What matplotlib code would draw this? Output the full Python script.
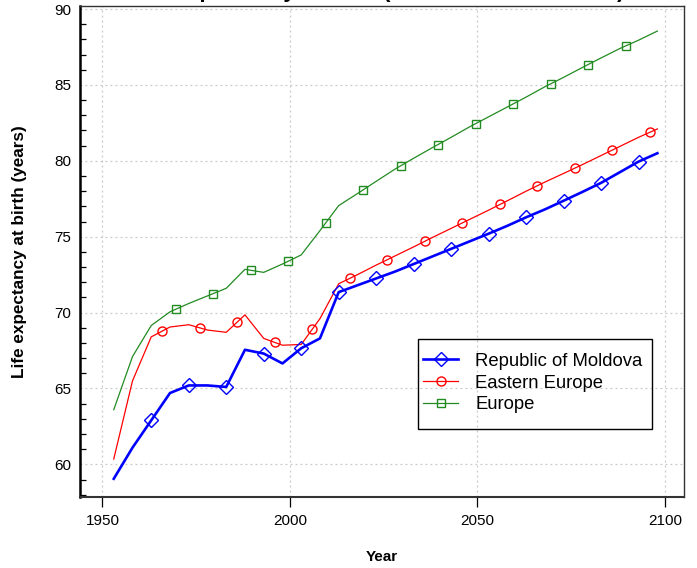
import numpy as np
import matplotlib
matplotlib.use('Agg')
import matplotlib.pyplot as plt
from matplotlib.patches import Rectangle
from matplotlib.ticker import MultipleLocator

# five-year period midpoints
years = [1953, 1958, 1963, 1968, 1973, 1978, 1983, 1988, 1993, 1998,
         2003, 2008, 2013, 2018, 2023, 2028, 2033, 2038, 2043, 2048,
         2053, 2058, 2063, 2068, 2073, 2078, 2083, 2088, 2093, 2098]

moldova = [59.05, 61.1, 62.9, 64.7, 65.2, 65.2, 65.1, 67.55, 67.3, 66.65,
           67.65, 68.3, 71.35, 71.8, 72.25, 72.7, 73.2, 73.7, 74.2, 74.7,
           75.2, 75.72, 76.28, 76.8, 77.37, 77.95, 78.55, 79.25, 79.95, 80.5]

eastern_europe = [60.35, 65.5, 68.4, 69.05, 69.2, 68.85, 68.7, 69.85, 68.3, 67.85,
                  67.9, 69.6, 71.9, 72.5, 73.13, 73.73, 74.33, 74.95, 75.55, 76.15,
                  76.75, 77.37, 78.0, 78.6, 79.17, 79.75, 80.35, 80.95, 81.55, 82.1]

europe = [63.6, 67.1, 69.15, 70.05, 70.6, 71.1, 71.6, 72.85, 72.65, 73.2,
          73.8, 75.4, 77.05, 77.84, 78.65, 79.45, 80.17, 80.87, 81.55, 82.25,
          82.9, 83.55, 84.2, 84.88, 85.5, 86.15, 86.78, 87.4, 87.95, 88.55]

# years where the symbols sit on each line (every 10 years, shifted per series)
moldova_marks = [1963, 1973, 1983, 1993, 2003, 2013, 2023, 2033, 2043, 2053,
                 2063, 2073, 2083, 2093]
eastern_marks = [1966, 1976, 1986, 1996, 2006, 2016, 2026, 2036, 2046, 2056,
                 2066, 2076, 2086, 2096]
europe_marks = [1969.5, 1979.5, 1989.5, 1999.5, 2009.5, 2019.5, 2029.5, 2039.5,
                2049.5, 2059.5, 2069.5, 2079.5, 2089.5]

names = ['Republic of Moldova', 'Eastern Europe', 'Europe']
x_ticks = [1950, 2000, 2050, 2100]
y_ticks = [60, 65, 70, 75, 80, 85, 90]

plt.rcParams['font.family'] = ['Liberation Sans', 'DejaVu Sans']

fig = plt.figure(figsize=(6.97, 5.68), dpi=100)
ax = fig.add_axes([80 / 697, 1 - 497 / 568, 604 / 697, 491 / 568])

styles = [dict(color='#0000FF', lw=1.9, marker='D', ms=6.8),
          dict(color='#FF0000', lw=0.9, marker='o', ms=6.5),
          dict(color='#228B22', lw=0.9, marker='s', ms=6.3)]
series = [moldova, eastern_europe, europe]
marks = [moldova_marks, eastern_marks, europe_marks]

for name, vals, mk, st in zip(names, series, marks, styles):
    ax.plot(years, vals, color=st['color'], lw=st['lw'], zorder=3)
    my = np.interp(mk, years, vals)
    ax.plot(mk, my, ls='none', marker=st['marker'], ms=st['ms'],
            mfc='none', mec=st['color'], mew=1.0, zorder=4)
    # proxy artist for the legend
    ax.plot([], [], color=st['color'], lw=st['lw'], marker=st['marker'],
            ms=st['ms'], mfc='none', mec=st['color'], mew=1.0, label=name)

ax.set_xlim(1944.0, 2105.1)
ax.set_ylim(57.85, 90.2)
ax.set_xticks(x_ticks)
ax.set_yticks(y_ticks)
ax.yaxis.set_minor_locator(MultipleLocator(1))

ax.grid(True, which='major', color='#c8c8c8', linestyle=(0, (1.5, 2.5)), linewidth=0.9)
ax.tick_params(axis='x', which='major', direction='out', length=7.5, width=0.9,
               labelsize=11, pad=5)
ax.tick_params(axis='y', which='major', length=0, labelsize=11, pad=6.5)
ax.tick_params(axis='y', which='minor', direction='in', length=4, width=0.9)

for side in ['top', 'right']:
    ax.spines[side].set_linewidth(1.0)
    ax.spines[side].set_color('#333333')
ax.spines['left'].set_linewidth(1.8)
ax.spines['bottom'].set_linewidth(1.5)
ax.spines['bottom'].set_color('#333333')

fig.text(20 / 697, 1 - 251.5 / 568, 'Life expectancy at birth (years)',
         rotation=90, ha='center', va='center', fontsize=12.3, fontweight='bold')
fig.text(382 / 697, 1 - 557 / 568, 'Year', ha='center', va='center',
         fontsize=11, fontweight='bold')
# title sits mostly above the canvas, only its lower edge shows
fig.text(377 / 697, 1.0055, 'Life expectancy at birth (both sexes combined)',
         ha='center', va='baseline', fontsize=16, fontweight='bold')

# legend without its own frame, box drawn separately (R style padding)
leg = ax.legend(loc='center left', bbox_to_anchor=(423 / 697, 1 - 383 / 568),
                bbox_transform=fig.transFigure, borderaxespad=0, borderpad=0,
                fontsize=13.3, frameon=False,
                handlelength=1.9, handletextpad=0.92, labelspacing=0.26)
fig.patches.append(Rectangle((418 / 697, 1 - 429 / 568), 234 / 697, 90 / 568,
                             transform=fig.transFigure, fill=False,
                             edgecolor='black', linewidth=1.0))

fig.savefig('out.png', dpi=100)
